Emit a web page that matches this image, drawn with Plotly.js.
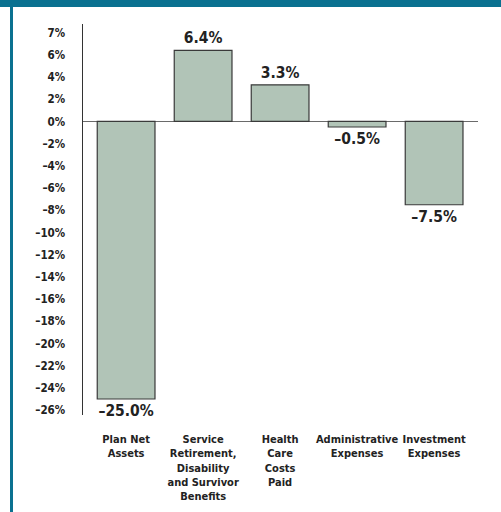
<!DOCTYPE html>
<html>
<head>
<meta charset="utf-8">
<script src="https://cdn.plot.ly/plotly-3.0.1.min.js"></script>
<style>
html,body{margin:0;padding:0;background:#fff;}
#chart{width:501px;height:512px;}
</style>
</head>
<body>
<div id="chart"></div>
<script>
// Data
const categories = [
  "Plan Net<br>Assets",
  "Service<br>Retirement,<br>Disability<br>and Survivor<br>Benefits",
  "Health<br>Care<br>Costs<br>Paid",
  "Administrative<br>Expenses",
  "Investment<br>Expenses"
];
const values = [-25.0, 6.4, 3.3, -0.5, -7.5];
const yTickVals = [8, 6, 4, 2, 0, -2, -4, -6, -8, -10, -12, -14, -16, -18, -20, -22, -24, -26];
const yTickText = ["7%", "6%", "4%", "2%", "0%", "–2%", "–4%", "–6%", "–8%", "–10%", "–12%", "–14%", "–16%", "–18%", "–20%", "–22%", "–24%", "–26%"];

const FONT = "'DejaVu Sans Condensed', sans-serif";
const TEAL = "#0a7190";

const labels = values.map(v => (v < 0 ? "–" : "") + Math.abs(v).toFixed(1) + "%");

const trace = {
  type: "bar",
  x: categories,
  y: values,
  width: 0.75,
  marker: {color: "#b1c4b7", line: {color: "#3a3a3a", width: 1.2}},
  text: labels,
  textposition: "outside",
  textfont: {family: FONT, size: 15.5, color: "#222", weight: "bold"},
  cliponaxis: false,
  hoverinfo: "none"
};

const W = 501, H = 512, L = 83, R = 23, T = 24, B = 97;
const pw = W - L - R, ph = H - T - B;
const px = x => (x - L) / pw;
const py = y => (H - B - y) / ph;

const layout = {
  width: W, height: H,
  margin: {l: L, r: R, t: T, b: B, pad: 0},
  paper_bgcolor: "#fff",
  plot_bgcolor: "#fff",
  showlegend: false,
  bargap: 0.25,
  font: {family: FONT, color: "#222", size: 12, weight: "bold"},
  xaxis: {
    type: "category",
    range: [-0.56, 4.57],
    showgrid: false, zeroline: false, showline: false,
    ticks: "",
    ticklabelstandoff: 16,
    tickfont: {family: FONT, size: 11, color: "#222", weight: "bold"},
    tickangle: 0,
    fixedrange: true
  },
  yaxis: {
    range: [-26.44, 8.78],
    tickvals: yTickVals,
    ticktext: yTickText,
    showgrid: false,
    zeroline: true, zerolinecolor: "#6a6a6a", zerolinewidth: 1.5,
    showline: true, linecolor: "#333", linewidth: 1.5,
    ticks: "",
    ticklabelstandoff: 14,
    tickfont: {family: FONT, size: 11.5, color: "#222", weight: "bold"},
    fixedrange: true
  },
  shapes: [
    {type: "rect", xref: "paper", yref: "paper", x0: px(0), x1: px(W), y0: py(7), y1: py(0),
     fillcolor: TEAL, line: {width: 0}, layer: "above"},
    {type: "rect", xref: "paper", yref: "paper", x0: px(10), x1: px(13), y0: py(H), y1: py(7),
     fillcolor: TEAL, line: {width: 0}, layer: "above"}
  ]
};

Plotly.newPlot("chart", [trace], layout, {displayModeBar: false, staticPlot: true});
</script>
</body>
</html>
